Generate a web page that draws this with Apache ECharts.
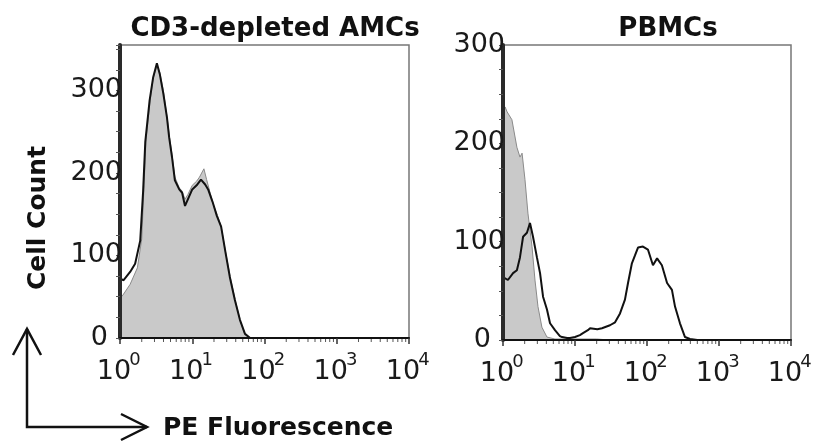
<!DOCTYPE html>
<html>
<head>
<meta charset="utf-8">
<script src="https://cdn.jsdelivr.net/npm/echarts/dist/echarts.min.js"></script>
<style>
html,body{margin:0;padding:0;background:#fff;}
#chart{width:825px;height:442px;}
</style>
</head>
<body>
<div id="chart"></div>
<script>
// ---- data (x = PE fluorescence intensity, y = cell count) ----
const panelTitles = ['CD3-depleted AMCs', 'PBMCs'];
const xAxisTitle = 'PE Fluorescence';
const yAxisTitle = 'Cell Count';
const xTickExponents = ['0', '1', '2', '3', '4'];
const minorTickValues = [2,3,4,5,6,7,8,9,20,30,40,50,60,70,80,90,200,300,400,500,600,700,800,900,2000,3000,4000,5000,6000,7000,8000,9000];

const amcIsotype = [
  [1,48],[1.096,52],[1.38,65],[1.74,85],[2.0,120],[2.14,180],[2.29,240],[2.63,290],[2.88,315],
  [3.24,330],[3.55,322],[3.98,300],[4.47,268],[4.90,240],[5.25,222],[5.75,195],[6.61,182],
  [7.24,178],[7.94,168],[8.71,174],[10,185],[11.5,190],[12.6,195],[14.5,205],[15.8,192],
  [17.8,175],[19.5,162],[22.4,148],[25.1,135],[28.8,105],[33.9,72],[39.8,44],[45.7,22],
  [52.5,6],[60.3,1],[70.8,0],[10000,0]
];
const amcStained = [
  [1,72],[1.122,70],[1.38,80],[1.62,90],[1.905,118],[2.09,178],[2.24,238],[2.57,288],[2.88,316],
  [3.24,333],[3.55,320],[3.98,296],[4.47,267],[4.79,243],[5.25,219],[5.75,191],[6.61,180],
  [7.24,176],[7.94,160],[8.91,170],[10,180],[11.5,185],[13.2,192],[15.1,186],[16.6,180],
  [19.1,165],[21.9,148],[25.1,135],[28.8,104],[33.1,74],[38.9,46],[45.7,22],[53.7,5],
  [63.1,0],[10000,0]
];
const pbmcIsotype = [
  [1,226],[1.07,237],[1.14,232],[1.33,224],[1.56,196],[1.72,186],[1.84,190],[2.02,163],
  [2.22,129],[2.53,95],[2.78,61],[3.06,34],[3.47,13],[4.08,3],[5.27,1],[10,1],[20,1],[30,0],[10000,0]
];
const pbmcStained = [
  [1,64],[1.17,61],[1.38,68],[1.56,71],[1.72,84],[1.90,105],[2.15,109],[2.37,119],[2.61,105],
  [2.96,84],[3.27,68],[3.60,44],[4.08,31],[4.50,17],[5.27,10],[6.17,4],[6.61,3],[7.76,2],
  [8.51,2],[10,3],[11.7,5],[12.9,7],[15.1,10],[16.2,12],[20.4,11],[23.7,12],[24.5,13],
  [30.6,15],[36.0,18],[42.2,27],[49.4,41],[54.5,58],[61.7,78],[68.1,86],[75.0,94],[87.9,95],
  [103,92],[121,76],[138,83],[161,76],[190,58],[222,51],[245,34],[287,17],[337,3],[395,1],
  [500,0],[10000,0]
];
const yMaxLeft = 355;
const yMaxRight = 300;
const xMin = 1;
const xMax = 10000;

// ---- chart ----
const FONT = 'DejaVu Sans';
const AXIS_DARK = '#2a2a2a';
const chart = echarts.init(document.getElementById('chart'), null, {renderer: 'canvas'});

function mainX(gridIndex) {
  return {
    type: 'log', logBase: 10, min: xMin, max: xMax, gridIndex: gridIndex, position: 'bottom', zlevel: 1, z: 10,
    axisLine: {show: true, onZero: false, lineStyle: {color: '#111', width: 2}},
    axisTick: {show: true, length: 6, lineStyle: {color: '#333', width: 1.5}},
    splitLine: {show: false},
    axisLabel: {
      show: true, margin: 20, fontFamily: FONT, fontSize: 27, color: '#1a1a1a',
      padding: [0, 12, 0, 0],
      formatter: function () { return '10'; }
    }
  };
}
function expX(gridIndex) {
  return {
    type: 'log', logBase: 10, min: xMin, max: xMax, gridIndex: gridIndex, position: 'bottom', offset: 0, zlevel: 1, z: 11,
    axisLine: {show: false, onZero: false}, axisTick: {show: false}, splitLine: {show: false},
    axisLabel: {
      show: true, margin: 13, fontFamily: FONT, fontSize: 18, color: '#1a1a1a',
      padding: [0, 0, 0, 30],
      formatter: function (v, i) { return xTickExponents[i]; }
    }
  };
}
function yAx(gridIndex, max) {
  return {
    type: 'value', min: 0, max: max, interval: 100, gridIndex: gridIndex, zlevel: 1, z: 10,
    axisLine: {show: true, onZero: false, lineStyle: {color: AXIS_DARK, width: 4}},
    axisTick: {show: true, length: 4, lineStyle: {color: '#555'}},
    minorTick: {show: true, splitNumber: 4, length: 4, lineStyle: {color: '#555'}},
    splitLine: {show: false},
    axisLabel: {
      margin: -2, fontFamily: FONT, fontSize: 27, color: '#1a1a1a',
      showMaxLabel: max % 100 === 0,
      formatter: function (v) { return v === 0 ? '{z|0}' : String(v); },
      rich: {z: {fontFamily: FONT, fontSize: 27, color: '#1a1a1a', padding: [0, 14, 0, 0]}}
    }
  };
}
function minorTickSeries(xi, yi) {
  return {
    type: 'custom', xAxisIndex: xi, yAxisIndex: yi, silent: true, clip: false, z: 12,
    data: minorTickValues.map(function (v) { return [v, 0]; }),
    renderItem: function (params, api) {
      const p = api.coord([api.value(0), 0]);
      return {type: 'line', shape: {x1: p[0], y1: p[1] + 1, x2: p[0], y2: p[1] + 4},
              style: {stroke: '#555', lineWidth: 1}};
    }
  };
}
// thick dark left axis bar, drawn through the axis scales (from y = 0 to y = max at x = 10^0)
function leftBarSeries(xi, yi, max) {
  return {
    type: 'custom', xAxisIndex: xi, yAxisIndex: yi, silent: true, clip: false, z: 20,
    data: [[xMin, 0, max]],
    renderItem: function (params, api) {
      const p0 = api.coord([api.value(0), api.value(1)]);
      const p1 = api.coord([api.value(0), api.value(2)]);
      return {type: 'rect', shape: {x: p0[0] - 2, y: p1[1], width: 4, height: p0[1] - p1[1]},
              style: {fill: AXIS_DARK}};
    }
  };
}
function isoSeries(xi, yi, data) {
  return {
    type: 'line', xAxisIndex: xi, yAxisIndex: yi, data: data, showSymbol: false, smooth: false,
    lineStyle: {color: '#8a8a8a', width: 1}, areaStyle: {color: '#c9c9c9', opacity: 1}, z: 2
  };
}
function stainSeries(xi, yi, data) {
  return {
    type: 'line', xAxisIndex: xi, yAxisIndex: yi, data: data, showSymbol: false, smooth: false,
    lineStyle: {color: '#111', width: 2}, z: 3
  };
}

const option = {
  animation: false,
  backgroundColor: '#fff',
  title: [
    {text: panelTitles[0], left: 270, top: 11, textAlign: 'center',
     textStyle: {fontFamily: FONT, fontSize: 26, fontWeight: 'bold', color: '#111'}},
    {text: panelTitles[1], left: 663, top: 11, textAlign: 'center',
     textStyle: {fontFamily: FONT, fontSize: 26, fontWeight: 'bold', color: '#111'}}
  ],
  grid: [
    {left: 120, top: 45, width: 289, height: 293, show: true, borderColor: '#777', borderWidth: 1.5},
    {left: 503, top: 45, width: 288, height: 295, show: true, borderColor: '#777', borderWidth: 1.5}
  ],
  xAxis: [mainX(0), expX(0), mainX(1), expX(1)],
  yAxis: [yAx(0, yMaxLeft), yAx(1, yMaxRight)],
  series: [
    isoSeries(0, 0, amcIsotype),
    stainSeries(0, 0, amcStained),
    isoSeries(2, 1, pbmcIsotype),
    stainSeries(2, 1, pbmcStained),
    minorTickSeries(0, 0),
    minorTickSeries(2, 1),
    leftBarSeries(0, 0, yMaxLeft),
    leftBarSeries(2, 1, yMaxRight)
  ],
  graphic: [
    {type: 'text', x: 38, y: 218, rotation: Math.PI / 2,
     style: {text: yAxisTitle, fontFamily: FONT, fontSize: 25, fontWeight: 'bold', fill: '#111',
             align: 'center', verticalAlign: 'middle'}},
    {type: 'text', x: 163, y: 428,
     style: {text: xAxisTitle, fontFamily: FONT, fontSize: 25, fontWeight: 'bold', fill: '#111',
             align: 'left', verticalAlign: 'middle'}},
    {type: 'polyline', shape: {points: [[27, 329], [27, 427], [147, 427]]},
     style: {stroke: '#111', lineWidth: 2.5, fill: null}},
    {type: 'polyline', shape: {points: [[13, 355], [27, 329], [41, 355]]},
     style: {stroke: '#111', lineWidth: 2.5, fill: null}},
    {type: 'polyline', shape: {points: [[121, 414], [147, 427], [121, 440]]},
     style: {stroke: '#111', lineWidth: 2.5, fill: null}}
  ]
};
chart.setOption(option);
</script>
</body>
</html>
